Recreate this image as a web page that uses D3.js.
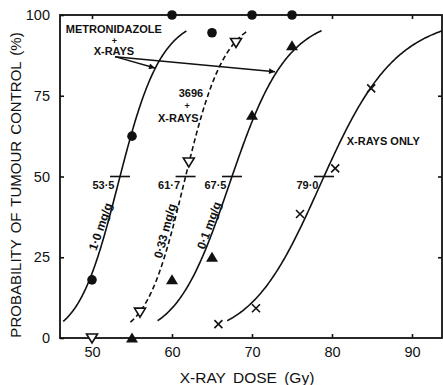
<!DOCTYPE html>
<html><head><meta charset="utf-8">
<script src="https://cdn.jsdelivr.net/npm/d3@7"></script>
<style>
html,body{margin:0;padding:0;background:#fff;}
svg{display:block;font-family:"Liberation Sans",Arial,Helvetica,sans-serif;}
</style></head>
<body><svg id="c" width="443" height="385"></svg>
<script>
// ---- data ----
const xTicks = [50, 60, 70, 80, 90];
const yTicks = [0, 25, 50, 75, 100];
const curveNames = ["1·0 mg/g", "0·33 mg/g", "0·1 mg/g", "X-RAYS ONLY"];
const ed50 = [53.5, 61.7, 67.5, 79.0];
const ed50Labels = ["53·5", "61·7", "67·5", "79·0"];
const slopes = [20.5, 25, 19.4, 17.3];          // log-dose logistic slopes
const curveStart = [46.4, 54.8, 58.2, 66.9];
const curveEnd = [61.8, 69.3, 78.7, 95];
const met10Dose = [50, 55, 60, 65, 70, 75];
const met10Ctrl = [18, 62.5, 100, 94.5, 100, 100];
const c3696Dose = [50, 56, 62.1, 68];
const c3696Ctrl = [0, 8, 54.5, 91.5];
const met01Dose = [55, 60, 65, 70, 75];
const met01Ctrl = [0, 18, 25, 69, 90.5];
const xrayDose = [65.8, 70.5, 76, 80.4, 84.9];
const xrayCtrl = [4.3, 9.2, 38.4, 52.5, 77.3];

// ---- layout ----
const svg = d3.select("#c");
const x = d3.scaleLinear().domain([46, 93.75]).range([60, 442]);
const y = d3.scaleLinear().domain([0, 100]).range([338, 15]);
const ink = "#111";

svg.append("defs").append("clipPath").attr("id", "clip")
  .append("rect").attr("x", 60).attr("y", 0).attr("width", 382).attr("height", 338);
const arrow = svg.select("defs").append("marker").attr("id", "ah")
  .attr("viewBox", "0 0 10 10").attr("refX", 10).attr("refY", 5)
  .attr("markerWidth", 9).attr("markerHeight", 6).attr("markerUnits", "userSpaceOnUse")
  .attr("orient", "auto");
arrow.append("path").attr("d", "M0,0 L10,5 L0,10 Z").attr("fill", ink);

// frame
svg.append("rect").attr("x", x.range()[0]).attr("y", y.range()[1])
  .attr("width", x.range()[1] - x.range()[0]).attr("height", y.range()[0] - y.range()[1])
  .attr("fill", "none").attr("stroke", ink).attr("stroke-width", 1.8);

// axes (ticks inward)
const axB = svg.append("g").attr("transform", `translate(0,${y.range()[0]})`)
  .call(d3.axisBottom(x).tickValues(xTicks).tickSizeInner(-4).tickSizeOuter(0).tickPadding(9));
const axT = svg.append("g").attr("transform", `translate(0,${y.range()[1]})`)
  .call(d3.axisTop(x).tickValues(xTicks).tickSizeInner(-4).tickSizeOuter(0).tickFormat(""));
const axL = svg.append("g").attr("transform", `translate(${x.range()[0]},0)`)
  .call(d3.axisLeft(y).tickValues(yTicks).tickSizeInner(-4).tickSizeOuter(0).tickPadding(10));
const axR = svg.append("g").attr("transform", `translate(${x.range()[1]},0)`)
  .call(d3.axisRight(y).tickValues([25, 50, 75]).tickSizeInner(-4).tickSizeOuter(0).tickFormat(""));
[axB, axT, axL, axR].forEach(a => {
  a.select(".domain").remove();
  a.selectAll(".tick line").attr("stroke", ink).attr("stroke-width", 1.6);
  a.selectAll(".tick text").attr("fill", ink).attr("font-size", 14.5)
   .attr("font-family", "Liberation Sans, Arial, sans-serif");
});

// axis titles
svg.append("text").attr("x", 247).attr("y", 383).attr("text-anchor", "middle")
  .attr("font-size", 15.5).attr("fill", ink).attr("word-spacing", 3).text("X-RAY DOSE (Gy)");
svg.append("text").attr("transform", "translate(21,185) rotate(-90)").attr("text-anchor", "middle")
  .attr("font-size", 15).attr("fill", ink).attr("word-spacing", 2)
  .text("PROBABILITY OF TUMOUR CONTROL (%)");

// curves
const plot = svg.append("g").attr("clip-path", "url(#clip)");
const prob = (d, i) => 100 / (1 + Math.exp(-slopes[i] * Math.log(d / ed50[i])));
const line = d3.line().x(d => x(d[0])).y(d => y(d[1])).curve(d3.curveLinear);
ed50.forEach((e, i) => {
  const pts = d3.range(0, 201).map(k => {
    const d = curveStart[i] + (curveEnd[i] - curveStart[i]) * k / 200;
    return [d, prob(d, i)];
  });
  plot.append("path").attr("d", line(pts)).attr("fill", "none").attr("stroke", ink)
    .attr("stroke-width", 1.6).attr("stroke-dasharray", i === 1 ? "5,3" : null);
  // ED50 markers
  svg.append("line").attr("x1", x(e) - 10).attr("x2", x(e) + 10)
    .attr("y1", y(50)).attr("y2", y(50)).attr("stroke", ink).attr("stroke-width", 1.6);
  svg.append("text").attr("x", x(e) - 5.5).attr("y", y(50) + 12).attr("text-anchor", "end")
    .attr("font-size", 11).attr("font-weight", "bold").attr("fill", ink).text(ed50Labels[i]);
});

// curve labels along curves
const curveLabelPos = [[51.55, 34.06, -71], [59.61, 32.85, -75], [65.11, 34.4, -70]];
curveLabelPos.forEach((p, i) => {
  svg.append("text").attr("transform", `translate(${x(p[0])},${y(p[1])}) rotate(${p[2]})`)
    .attr("text-anchor", "middle").attr("font-size", 12).attr("font-weight", "bold")
    .attr("fill", ink).text(curveNames[i]);
});
svg.append("text").attr("x", x(81.84)).attr("y", y(59.75)).attr("font-size", 11)
  .attr("font-weight", "bold").attr("fill", ink).text(curveNames[3]);

// annotations
const notes = [["METRONIDAZOLE", 52.73, 94.5], ["+", 52.79, 91.0], ["X-RAYS", 52.74, 87.6],
               ["3696", 62.375, 74.7], ["+", 61.9, 71.0], ["X-RAYS", 60.79, 67.0]];
notes.forEach(n => {
  svg.append("text").attr("x", x(n[1])).attr("y", y(n[2])).attr("text-anchor", "middle")
    .attr("font-size", n[0] === "+" ? 9 : 11).attr("font-weight", "bold").attr("fill", ink).text(n[0]);
});
const arrowFrom = [52.875, 87.09];
const arrowTo = [[57.875, 83.6], [72.875, 82.45]];
arrowTo.forEach(t => {
  svg.append("line").attr("x1", x(arrowFrom[0])).attr("y1", y(arrowFrom[1]))
    .attr("x2", x(t[0])).attr("y2", y(t[1])).attr("stroke", ink).attr("stroke-width", 1.4)
    .attr("marker-end", "url(#ah)");
});

// markers
const zip = (a, b) => a.map((v, i) => [v, b[i]]);
svg.append("g").selectAll("circle").data(zip(met10Dose, met10Ctrl)).join("circle")
  .attr("cx", d => x(d[0])).attr("cy", d => y(d[1])).attr("r", 4.8).attr("fill", ink);
svg.append("g").selectAll("path").data(zip(c3696Dose, c3696Ctrl)).join("path")
  .attr("transform", d => `translate(${x(d[0])},${y(d[1])})`)
  .attr("d", "M-5.5,-4 L5.5,-4 L0,5 Z").attr("fill", "#fff").attr("stroke", ink).attr("stroke-width", 1.6);
svg.append("g").selectAll("path").data(zip(met01Dose, met01Ctrl)).join("path")
  .attr("transform", d => `translate(${x(d[0])},${y(d[1])})`)
  .attr("d", "M-6,4.5 L6,4.5 L0,-5.5 Z").attr("fill", ink);
svg.append("g").selectAll("path").data(zip(xrayDose, xrayCtrl)).join("path")
  .attr("transform", d => `translate(${x(d[0])},${y(d[1])})`)
  .attr("d", "M-4,-4 L4,4 M-4,4 L4,-4").attr("fill", "none").attr("stroke", ink).attr("stroke-width", 1.6);
</script></body></html>
